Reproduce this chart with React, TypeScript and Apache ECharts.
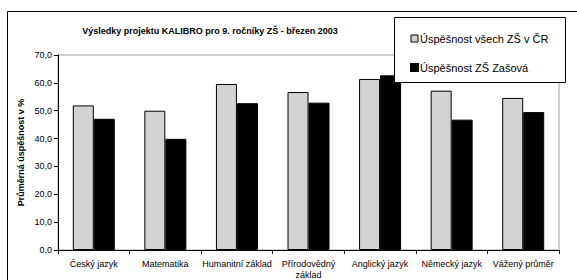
import React, { useEffect, useRef } from "react";
import * as echarts from "echarts";

const categories = [
  "Český jazyk",
  "Matematika",
  "Humanitní základ",
  "Přírodovědný\nzáklad",
  "Anglický jazyk",
  "Německý jazyk",
  "Vážený průměr",
];
const seriesNames = ["Úspěšnost všech ZŠ v ČR", "Úspěšnost ZŠ Zašová"];
const valuesCR = [51.9, 50.0, 59.6, 56.7, 61.4, 57.2, 54.6];
const valuesZasova = [47.1, 39.9, 52.7, 52.9, 62.7, 46.8, 49.5];
const titleText = "Výsledky projektu KALIBRO pro 9. ročníky ZŠ - březen 2003";
const yAxisTitle = "Průměrná úspěšnost v %";

const FONT = "Liberation Sans, Arial, sans-serif";

export default function App() {
  const ref = useRef<HTMLDivElement>(null);
  useEffect(() => {
    if (!ref.current) return;
    const chart = echarts.init(ref.current, null, { renderer: "svg" });
    chart.setOption({
      animation: false,
      backgroundColor: "#ffffff",
      textStyle: { fontFamily: FONT },
      title: {
        text: titleText,
        left: 205,
        top: 21,
        textAlign: "center",
        textStyle: { fontSize: 9, fontWeight: "bold", color: "#000", fontFamily: FONT },
      },
      grid: {
        left: 58,
        top: 55,
        right: 18,
        bottom: 30,
        show: true,
        borderColor: "#a0a0a0",
        borderWidth: 1,
        backgroundColor: "transparent",
      },
      legend: {
        show: true,
        orient: "vertical",
        left: 405,
        top: 28,
        itemWidth: 7,
        itemHeight: 7,
        itemGap: 18,
        selectedMode: false,
        z: 10,
        textStyle: { fontSize: 11, color: "#000", fontFamily: FONT, padding: [0, 0, 0, -3] },
        data: [
          { name: seriesNames[0], icon: "rect", itemStyle: { color: "#d3d3d3", borderColor: "#000", borderWidth: 1 } },
          { name: seriesNames[1], icon: "rect", itemStyle: { color: "#000" } },
        ],
      },
      graphic: [
        {
          type: "rect",
          shape: { x: 7.5, y: 11.5, width: 620, height: 300 },
          style: { fill: "none", stroke: "#000", lineWidth: 1 },
          z: 100,
          silent: true,
        },
        {
          type: "rect",
          shape: { x: 394.5, y: 17.5, width: 171, height: 65 },
          style: { fill: "#fff", stroke: "#000", lineWidth: 1 },
          z: 5,
          silent: true,
        },
      ],
      xAxis: {
        type: "category",
        data: categories,
        axisLine: { show: true, lineStyle: { color: "#000", width: 1 } },
        axisTick: { show: true, inside: false, length: 4, alignWithLabel: false, lineStyle: { color: "#000" } },
        axisLabel: { fontSize: 9, color: "#000", margin: 8, interval: 0, lineHeight: 11, fontFamily: FONT },
        splitLine: { show: false },
      },
      yAxis: {
        type: "value",
        min: 0,
        max: 70,
        interval: 10,
        name: yAxisTitle,
        nameLocation: "middle",
        nameGap: 33,
        nameMoveOverlap: false,
        nameRotate: 90,
        nameTextStyle: { fontSize: 9, fontWeight: "bold", color: "#000", fontFamily: FONT },
        axisLine: { show: true, lineStyle: { color: "#000", width: 1 } },
        axisTick: { show: true, length: 4, lineStyle: { color: "#000" } },
        axisLabel: {
          fontSize: 9,
          color: "#000",
          margin: 6,
          fontFamily: FONT,
          formatter: (v: number) => v.toFixed(1).replace(".", ","),
        },
        splitLine: { show: false },
      },
      series: [
        {
          name: seriesNames[0],
          type: "bar",
          data: valuesCR,
          barWidth: 21,
          barGap: "0%",
          itemStyle: { color: "#d3d3d3", borderColor: "#000", borderWidth: 1 },
          z: 2,
        },
        {
          name: seriesNames[1],
          type: "bar",
          data: valuesZasova,
          barWidth: 21,
          barGap: "0%",
          itemStyle: { color: "#000", borderColor: "#000", borderWidth: 1 },
          z: 2,
        },
      ],
    });
    return () => chart.dispose();
  }, []);
  return (
    <div style={{ position: "absolute", left: 0, top: 0, width: 577, height: 280, background: "#fff" }}>
      <div ref={ref} style={{ width: 577, height: 280 }} />
    </div>
  );
}
